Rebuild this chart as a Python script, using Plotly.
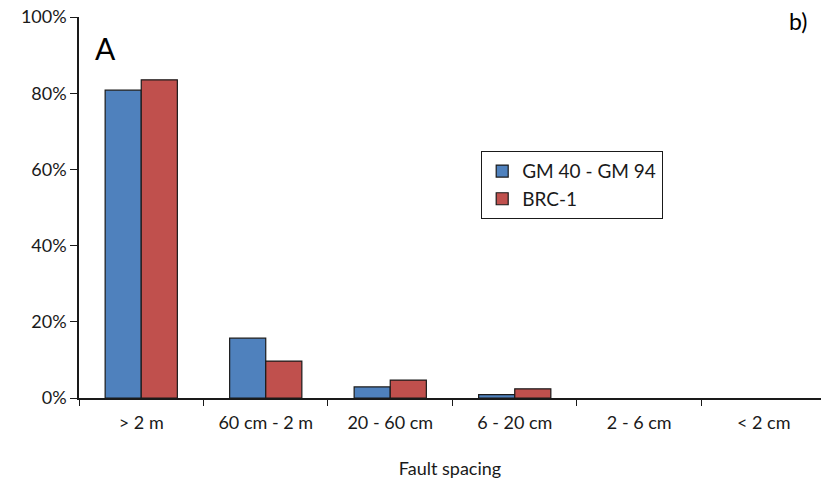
import plotly.graph_objects as go

# Fault spacing classes and the share of faults in each (percent)
categories = ["> 2 m", "60 cm - 2 m", "20 - 60 cm", "6 - 20 cm", "2 - 6 cm", "< 2 cm"]
gm_values = [80.8, 15.7, 2.9, 0.9, 0.0, 0.0]
brc_values = [83.5, 9.7, 4.7, 2.4, 0.0, 0.0]
series_names = ["GM 40 - GM 94", "BRC-1"]
y_ticks = [0, 20, 40, 60, 80, 100]
y_tick_labels = ["0%", "20%", "40%", "60%", "80%", "100%"]

FONT = "Lato, Open Sans, sans-serif"
TXT = "#1a1a1a"


def outline_widths(values, w=1.2):
    # empty classes get no outline so nothing is drawn on the baseline
    return [w if v > 0 else 0 for v in values]


fig = go.Figure()
fig.add_trace(go.Bar(
    x=categories, y=gm_values, name=series_names[0],
    marker=dict(color="#4F81BD", line=dict(color="#1a1a1a", width=outline_widths(gm_values))),
))
fig.add_trace(go.Bar(
    x=categories, y=brc_values, name=series_names[1],
    marker=dict(color="#C0504D", line=dict(color="#1a1a1a", width=outline_widths(brc_values))),
))

fig.update_layout(
    width=821, height=488,
    margin=dict(l=79, r=0, t=17, b=90),
    paper_bgcolor="white", plot_bgcolor="white",
    barmode="group", bargap=0.42, bargroupgap=0,
    font=dict(family=FONT, size=18, color=TXT),
    showlegend=True,
    legend=dict(
        x=(481 - 79) / 742, y=(398 - 151) / 381, xanchor="left", yanchor="top",
        bordercolor="#1a1a1a", borderwidth=1.2, bgcolor="white",
        font=dict(family=FONT, size=19, color=TXT),
        itemwidth=30, tracegroupgap=8,
    ),
    xaxis=dict(
        type="category", range=[-0.5, 5.46],
        showline=True, linecolor="#1a1a1a", linewidth=1.5,
        ticks="outside", tickson="boundaries", ticklen=6, tickcolor="#1a1a1a",
        ticklabelstandoff=8,
        tickfont=dict(family=FONT, size=18, color=TXT),
        title=dict(text="Fault spacing", font=dict(family=FONT, size=18, color=TXT), standoff=30),
        showgrid=False, zeroline=False,
    ),
    yaxis=dict(
        range=[0, 100], tickvals=y_ticks, ticktext=y_tick_labels,
        showline=True, linecolor="#1a1a1a", linewidth=1.5,
        ticks="outside", ticklen=7, tickcolor="#1a1a1a",
        tickfont=dict(family=FONT, size=18, color=TXT),
        showgrid=False, zeroline=False,
    ),
    annotations=[
        dict(text="A", xref="paper", yref="paper", x=(93 - 79) / 742, y=(398 - 48) / 381,
             xanchor="left", yanchor="middle", showarrow=False,
             font=dict(family=FONT, size=30, color="black")),
        dict(text="b)", xref="paper", yref="paper", x=1.0, y=(398 - 21) / 381,
             xanchor="right", yanchor="middle", showarrow=False, xshift=-12,
             font=dict(family=FONT, size=23, color="black")),
    ],
)

fig.write_html("out.html")
